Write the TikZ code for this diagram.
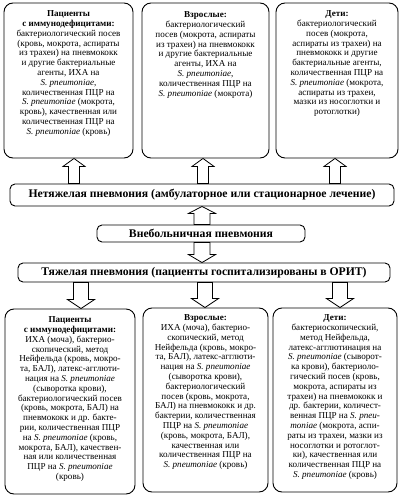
\documentclass[tikz,border=0pt]{standalone}
\usepackage{fontspec}
\setmainfont{Liberation Serif}
\usetikzlibrary{calc}
\tikzset{
  box/.style={draw, line width=0.9pt, rounded corners=9pt, inner sep=0pt, fill=white},
  bar/.style={draw, line width=0.9pt, rounded corners=5pt, inner sep=0pt, fill=white, font=\fontsize{11.7}{13}\selectfont\bfseries},
  txt/.style={anchor=north, inner sep=0pt, align=center, font=\fontsize{9.1}{9.8}\selectfont},
  arr/.style={draw, line width=0.8pt, fill=white, line join=miter},
}
% #1 start, #2 end, #3 half shaft, #4 half head, #5 signed head length
\newcommand\blockarr[5]{%
  \draw[arr] ($(#1)+(-#3,0)$) -- ($(#2)+(-#3,#5)$) -- ($(#2)+(-#4,#5)$) -- (#2)
    -- ($(#2)+(#4,#5)$) -- ($(#2)+(#3,#5)$) -- ($(#1)+(#3,0)$) -- cycle;}
\newcommand\spn{\textit{S. pneumoniae}}
\begin{document}
\begin{tikzpicture}[x=1pt,y=-1pt]
\useasboundingbox (0,0) rectangle (404,500);
% boxes
\node[box, minimum width=129pt, minimum height=155pt] (TL) at (68.5,80.5) {};
\node[box, minimum width=127pt, minimum height=155pt] (TM) at (205.5,80.5) {};
\node[box, minimum width=122pt, minimum height=155pt] (TR) at (337,80.5) {};
\node[bar, minimum width=384pt, minimum height=22pt] (N1) at (202,195) {Нетяжелая пневмония (амбулаторное или стационарное лечение)};
\node[bar, minimum width=208pt, minimum height=17pt] (N2) at (201,233.5) {Внебольничная пневмония};
\node[bar, minimum width=372pt, minimum height=19pt] (N3) at (204,272.5) {Тяжелая пневмония (пациенты госпитализированы в ОРИТ)};
\node[box, minimum width=130pt, minimum height=185pt] (BL) at (70,401.5) {};
\node[box, minimum width=125pt, minimum height=184pt] (BM) at (205.5,400) {};
\node[box, minimum width=124pt, minimum height=184pt] (BR) at (335,400) {};
% texts
\node[txt] (tTL) at ($(TL.north)+(0,8)$) {\textbf{Пациенты}\\ \textbf{с иммунодефицитами:}\\
бактериологический посев\\ (кровь, мокрота, аспираты\\ из трахеи) на пневмококк\\
и другие бактериальные\\ агенты, ИХА на\\ \spn,\\ количественная ПЦР на\\
\spn{} (мокрота,\\ кровь), качественная или\\ количественная ПЦР на\\ \spn{} (кровь)};
\node[txt] (tTM) at ($(TM.north)+(0,9)$) {\textbf{Взрослые:}\\ бактериологический\\
посев (мокрота, аспираты\\ из трахеи) на пневмококк\\ и другие бактериальные\\
агенты, ИХА на\\ \spn,\\ количественная ПЦР на\\ \spn{} (мокрота)};
\node[txt] (tTR) at ($(TR.north)+(0,8)$) {\textbf{Дети:}\\ бактериологический\\
посев (мокрота,\\ аспираты из трахеи) на\\ пневмококк и другие\\ бактериальные агенты,\\
количественная ПЦР на\\ \spn{} (мокрота,\\ аспираты из трахеи,\\ мазки из носоглотки и\\ ротоглотки)};
\node[txt] (tBL) at ($(BL.north)+(0,8)$) {\textbf{Пациенты}\\ \textbf{с иммунодефицитами:}\\
ИХА (моча), бактерио-\\ скопический, метод\\ Нейфельда (кровь, мокро-\\ та, БАЛ), латекс-агглюти-\\
нация на \spn\\ (сыворотка крови),\\ бактериологический посев\\ (кровь, мокрота, БАЛ) на\\
пневмококк и др. бакте-\\ рии, количественная ПЦР\\ на \spn{} (кровь,\\ мокрота, БАЛ), качествен-\\
ная или количественная\\ ПЦР на \spn\\ (кровь)};
\node[txt] (tBM) at ($(BM.north)+(0,7)$) {\textbf{Взрослые:}\\
ИХА (моча), бактерио-\\ скопический, метод\\ Нейфельда (кровь, мокро-\\ та, БАЛ), латекс-агглюти-\\
нация на \spn\\ (сыворотка крови),\\ бактериологический\\ посев (кровь, мокрота,\\
БАЛ) на пневмококк и др.\\ бактерии, количественная\\ ПЦР на \spn\\ (кровь, мокрота, БАЛ),\\
качественная или\\ количественная ПЦР на\\ \spn{} (кровь)};
\node[txt] (tBR) at ($(BR.north)+(0,7)$) {\textbf{Дети:}\\ бактериоскопический,\\ метод Нейфельда,\\
латекс-агглютинация на\\ \spn{} (сыворот-\\ ка крови), бактериоло-\\ гический посев (кровь,\\
мокрота, аспираты из\\ трахеи) на пневмококк и\\ др. бактерии, количест-\\
венная ПЦР на \textit{S. pneu-}\\ \textit{moniae} (мокрота, аспи-\\ раты из трахеи, мазки из\\
носоглотки и ротоглот-\\ ки), качественная или\\ количественная ПЦР на\\ \spn{} (кровь)};
% arrow axes
\coordinate (xa) at (74,0);
\coordinate (xb) at (203,0);
\coordinate (xc) at (335,0);
\coordinate (xm) at (202,0);
\coordinate (xd) at (81,0);
\coordinate (xe) at (205,0);
\coordinate (xf) at (340,0);
% arrows
\blockarr{N1.north -| xa}{TL.south -| xa}{5.5}{11}{8}
\blockarr{N1.north -| xb}{TM.south -| xb}{5.5}{11}{8}
\blockarr{N1.north -| xc}{TR.south -| xc}{5.5}{11}{8}
\blockarr{N2.north -| xm}{N1.south -| xm}{8}{13.5}{7}
\blockarr{N2.south -| xm}{N3.north -| xm}{8}{13.5}{-8}
\blockarr{N3.south -| xd}{BL.north -| xd}{7.5}{13.5}{-9}
\blockarr{N3.south -| xe}{BM.north -| xe}{7.5}{13.5}{-9}
\blockarr{N3.south -| xf}{BR.north -| xf}{7.5}{13.5}{-9}
\end{tikzpicture}
\end{document}
